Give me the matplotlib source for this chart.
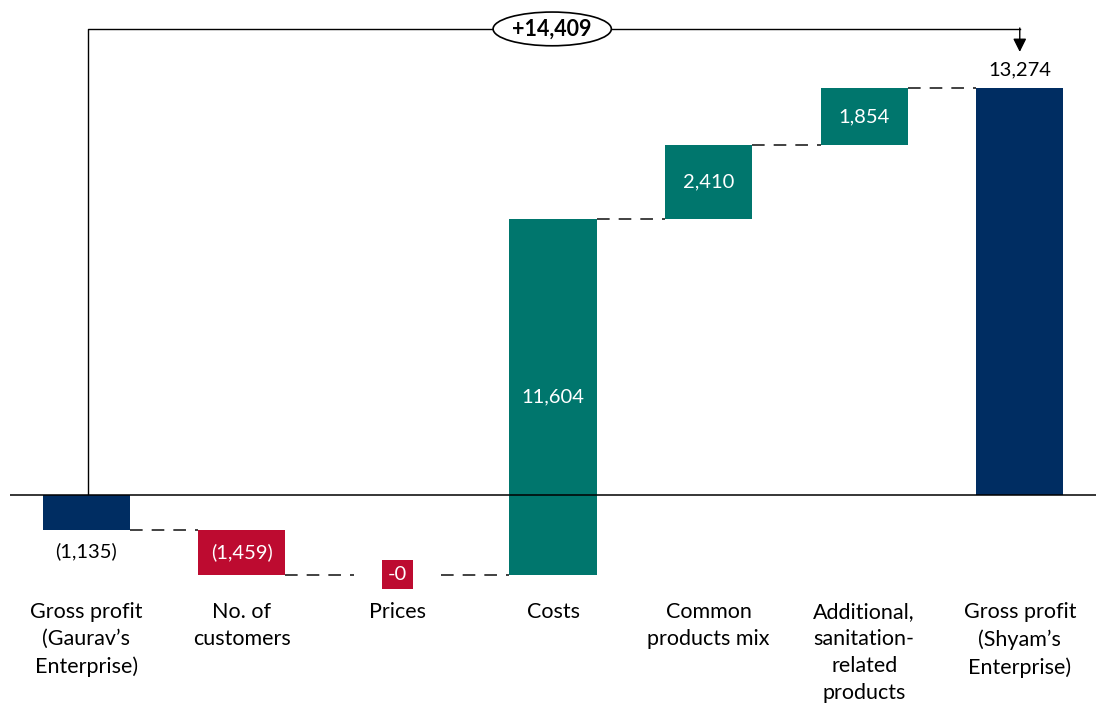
import matplotlib.pyplot as plt
from matplotlib.patches import Ellipse
import numpy as np

plt.rcParams['font.family'] = ['Lato', 'DejaVu Sans']

categories = ["Gross profit\n(Gaurav\u2019s\nEnterprise)", "No. of\ncustomers", "Prices", "Costs",
              "Common\nproducts mix", "Additional,\nsanitation-\nrelated\nproducts",
              "Gross profit\n(Shyam\u2019s\nEnterprise)"]
values = [-1135, -1459, -0.3, 11604, 2410, 1854, 13274]
is_total = [True, False, False, False, False, False, True]

navy = "#002d62"
teal = "#00766d"
red = "#bd0b30"

def fmt(v):
    if round(abs(v)) == 0:
        return "-0" if v < 0 else "0"
    s = f"{abs(v):,.0f}"
    return f"({s})" if v < 0 else s

# running totals -> bar bottoms / tops
bottoms, tops = [], []
run = 0
for v, t in zip(values, is_total):
    if t:
        b, e = 0, v
        run = v
    else:
        b, e = run, run + v
        run = run + v
    bottoms.append(min(b, e))
    tops.append(max(b, e))

fig = plt.figure(figsize=(10.96, 7.06), dpi=100)
ax = fig.add_axes([10 / 1096, 0, 1 - 10 / 1096, 1])
ax.set_xlim(-0.49, 6.49)
ax.set_ylim(-6881, 16143)
ax.axis("off")

x = np.arange(len(values))
w = 0.56
for i, v in enumerate(values):
    if is_total[i]:
        c = navy
    elif v < 0:
        c = red
    else:
        c = teal
    ax.bar(x[i], tops[i] - bottoms[i], bottom=bottoms[i], width=w, color=c, zorder=3)

ax.axhline(0, color="black", lw=1.1, zorder=4)

# dashed connectors between bars
levels = np.cumsum([values[0]] + values[1:-1])
for i in range(len(values) - 1):
    lv = levels[i]
    ax.plot([x[i] + w / 2, x[i + 1] - w / 2], [lv, lv], color="#333333", lw=1.3,
            dashes=(7, 5), zorder=2)

# value labels
fs = 14.5
for i, v in enumerate(values):
    mid = (tops[i] + bottoms[i]) / 2
    if i == 0:
        ax.text(x[i], bottoms[i] - 400, fmt(v), ha="center", va="top", fontsize=fs)
    elif i == len(values) - 1:
        ax.text(x[i], tops[i] + 300, fmt(v), ha="center", va="bottom", fontsize=fs)
    elif i == 2:
        ax.text(x[i], mid, fmt(v), ha="center", va="center", fontsize=fs, color="white",
                zorder=5, bbox=dict(boxstyle="square,pad=0.3", fc=red, ec="none"))
    else:
        ax.text(x[i], mid, fmt(v), ha="center", va="center", fontsize=fs, color="white", zorder=5)

# category labels
for i, c in enumerate(categories):
    ax.text(x[i], -3480, c, ha="center", va="top", fontsize=15.5, linespacing=1.44)

# overall change bracket
top_y = 15200
delta = values[-1] - values[0]
ax.plot([x[0] + 0.012, x[0] + 0.012, x[-1]], [0, top_y, top_y], color="black", lw=1, zorder=2)
ax.annotate("", xy=(x[-1], 14450), xytext=(x[-1], top_y + 30),
            arrowprops=dict(arrowstyle="-|>", color="black", lw=1, mutation_scale=20,
                            shrinkA=0, shrinkB=0))
xm = (x[0] + x[-1]) / 2 - 0.005
ax.add_patch(Ellipse((xm, top_y), 0.76, 1100, fc="white", ec="black", lw=1.2, zorder=5))
ax.text(xm, top_y, f"+{delta:,.0f}", ha="center", va="center", fontsize=15.5,
        fontweight="bold", zorder=6)

fig.savefig("out.png", dpi=100)
